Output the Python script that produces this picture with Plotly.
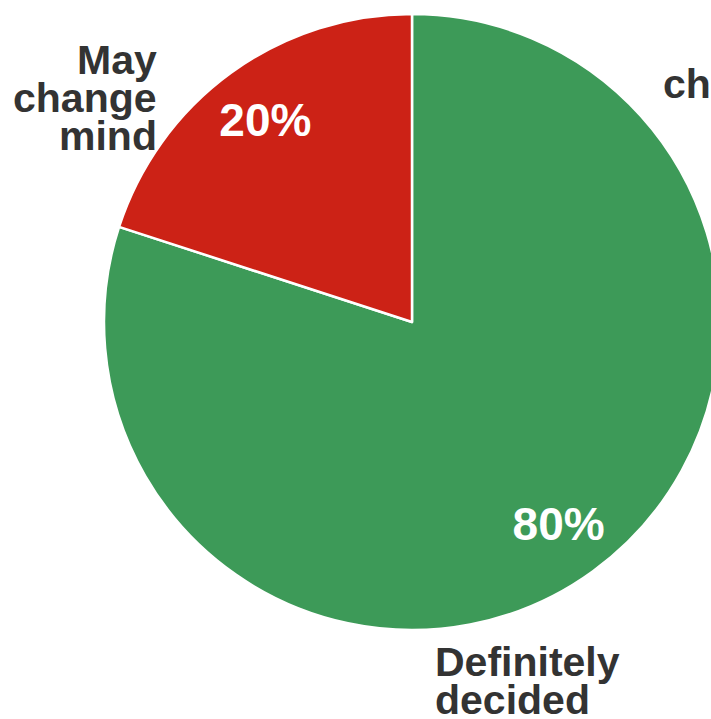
import plotly.graph_objects as go

# ---- data ----
categories = ["Definitely decided", "May change mind"]
values = [80, 20]
colors = ["#3d9a58", "#cc2216"]
label_lines = {
    "May change mind": ["May", "change", "mind"],
    "Definitely decided": ["Definitely", "decided"],
}
extra_label = "change"

W, H = 725, 719
FONT = "Liberation Sans, Arial, sans-serif"
dom = dict(x=[104 / W, 720 / W], y=[(H - 630) / H, (H - 14) / H])

fig = go.Figure()
# filled slices
fig.add_trace(go.Pie(
    labels=categories,
    values=values,
    sort=False,
    direction="clockwise",
    rotation=0,
    marker=dict(colors=colors, line=dict(color="white", width=2.5)),
    textinfo="none",
    hoverinfo="label+percent",
    showlegend=False,
    domain=dom,
))
# transparent ring carrying the percentage labels (places them out toward the rim)
fig.add_trace(go.Pie(
    labels=categories,
    values=values,
    sort=False,
    direction="clockwise",
    rotation=0,
    hole=0.62,
    marker=dict(colors=["rgba(0,0,0,0)"] * len(values), line=dict(width=0)),
    textposition="inside",
    texttemplate="%{percent:.0%}",
    insidetextorientation="horizontal",
    insidetextfont=dict(family=FONT, size=46, color="white", weight="bold"),
    hoverinfo="skip",
    showlegend=False,
    domain=dom,
))

def px_x(p):
    return p / W

def px_y(p):
    return (H - p) / H

lab_font = dict(family=FONT, size=41, color="#333333", weight="bold")
anns = []
for ln, base in zip(label_lines["May change mind"], [73, 111, 149]):
    anns.append(dict(text=ln, x=px_x(159), y=px_y(base - 13), xref="paper", yref="paper",
                     xanchor="right", yanchor="middle", showarrow=False, font=lab_font))
for ln, base in zip(label_lines["Definitely decided"], [675, 713]):
    anns.append(dict(text=ln, x=px_x(433), y=px_y(base - 13), xref="paper", yref="paper",
                     xanchor="left", yanchor="middle", showarrow=False, font=lab_font))
anns.append(dict(text=extra_label, x=px_x(661), y=px_y(97 - 13), xref="paper", yref="paper",
                 xanchor="left", yanchor="middle", showarrow=False, font=lab_font))

fig.update_layout(
    width=W, height=H,
    autosize=False,
    margin=dict(l=0, r=0, t=0, b=0),
    paper_bgcolor="white",
    plot_bgcolor="white",
    annotations=anns,
)

fig.write_html(
    "out.html",
    config={"displayModeBar": False},
    post_script="document.body.style.margin='0';document.body.style.overflow='hidden';",
)
